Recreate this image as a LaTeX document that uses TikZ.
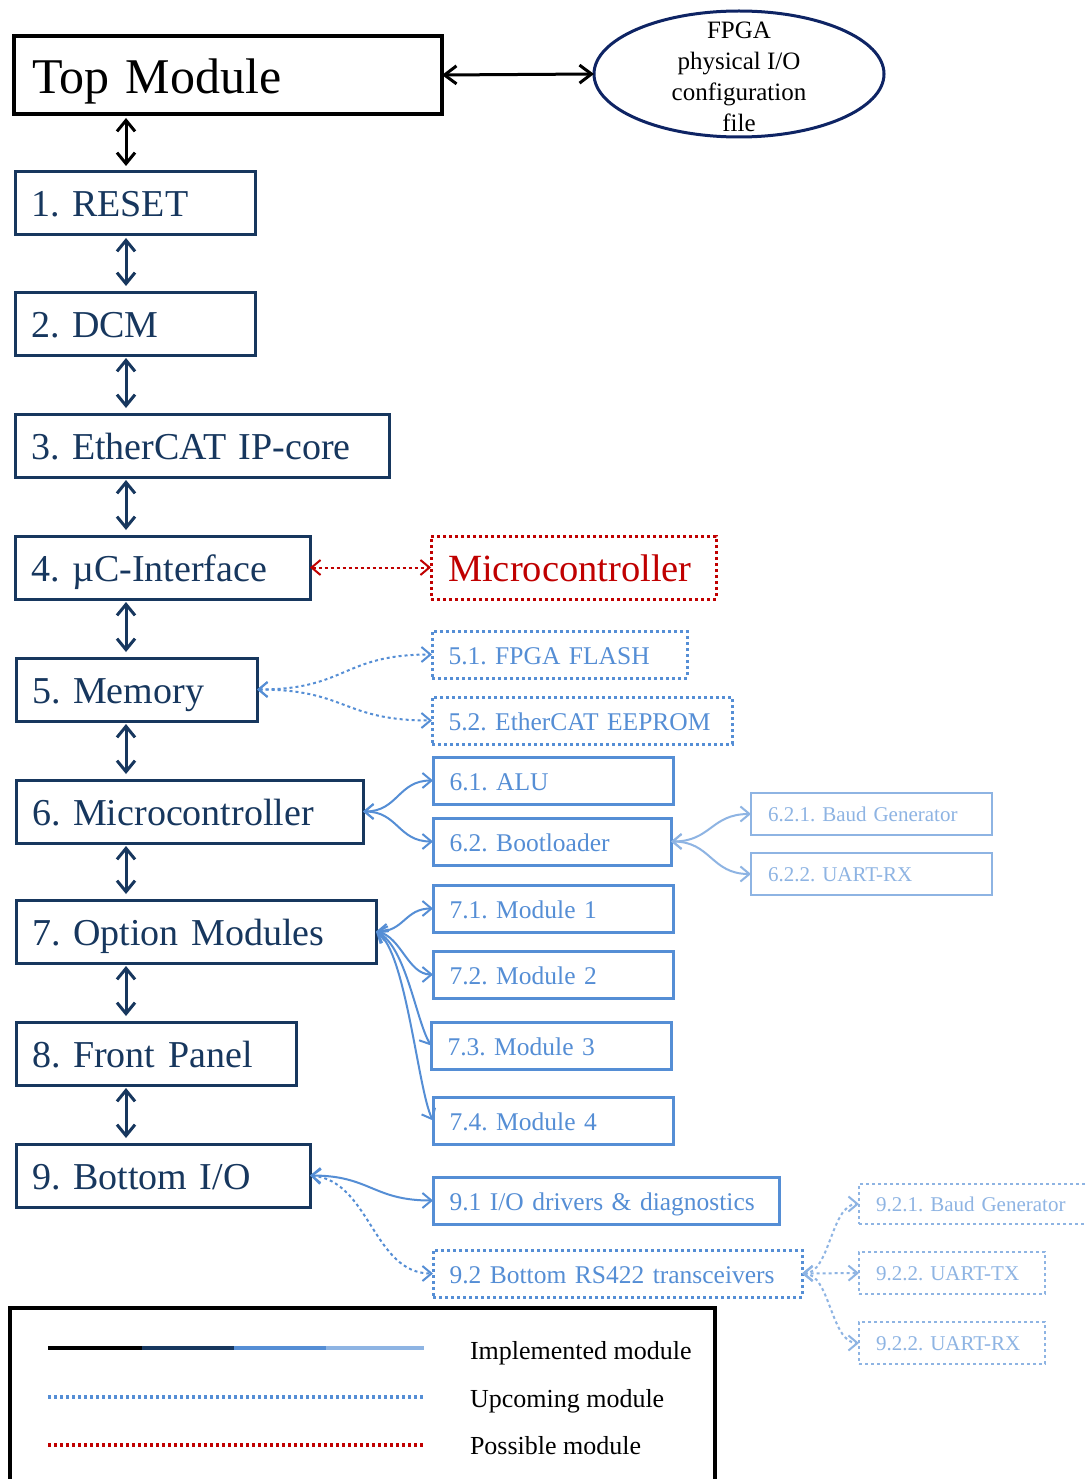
\documentclass[tikz,border=0pt]{standalone}
\usepackage{fontspec}
\setmainfont{Liberation Serif}
\usetikzlibrary{arrows.meta,shapes.geometric}
\definecolor{navy}{RGB}{23,55,94}
\definecolor{ellnavy}{RGB}{14,36,100}
\definecolor{midblue}{RGB}{85,142,213}
\definecolor{lightblue}{RGB}{142,180,227}
\definecolor{possred}{RGB}{192,0,0}
\begin{document}
\frenchspacing
\begin{tikzpicture}[x=1pt,y=-1pt,
  every node/.style={inner sep=0pt,outer sep=0pt},
  topbox/.style={draw=black,line width=4pt,anchor=north west,minimum height=78pt,inner xsep=18pt,align=left,text height=42pt,text depth=5.4pt,font=\fontsize{50}{56}\selectfont},
  lvlone/.style={draw=navy,line width=3pt,text=navy,anchor=north west,minimum height=63pt,inner xsep=16pt,align=left,text height=32pt,text depth=5pt,font=\fontsize{38}{44}\selectfont},
  lvltwo/.style={draw=midblue,line width=3pt,text=midblue,anchor=north west,minimum height=47pt,inner xsep=16.5pt,align=left,text height=24pt,text depth=3.6pt,font=\fontsize{25.5}{30}\selectfont},
  lvlthree/.style={draw=lightblue,line width=2.5pt,text=lightblue,anchor=north west,minimum height=42pt,inner xsep=17pt,align=left,text height=19pt,text depth=3.6pt,font=\fontsize{21}{25}\selectfont},
  dotline/.style={dash pattern=on 3pt off 3pt},
  possbox/.style={draw=possred,line width=3pt,text=possred,dotline,anchor=north west,minimum height=63pt,inner xsep=17pt,align=left,text height=32pt,text depth=5pt,font=\fontsize{38.5}{44}\selectfont},
  varr/.style={{Straight Barb[length=11pt,width=18pt]}-{Straight Barb[length=11pt,width=18pt]},line width=3pt,shorten <=3pt,shorten >=6pt},
  fan/.style={{Straight Barb[length=9pt,width=15pt]}-{Straight Barb[length=9pt,width=15pt]},line width=2pt},
  legtext/.style={anchor=base west,font=\fontsize{26}{30}\selectfont}
]
\clip (0,0) rectangle (1085,1479);
\fill[white] (0,0) rectangle (1085,1479);

% top level
\node[topbox,text width=392pt] (top) at (14,36) {Top Module};
\node[ellipse,draw=ellnavy,line width=3pt,minimum width=290pt,minimum height=126pt] (fpga) at (739,74) {};
\node[align=center,font=\fontsize{25}{31}\selectfont] (fpgatext) at (739,77) {FPGA\\physical I/O\\configuration\\file};
\draw[{Straight Barb[length=12pt,width=18pt]}-{Straight Barb[length=12pt,width=18pt]},line width=3pt] (top.east) -- (fpga.west);

% main column
\node[lvlone,text width=208pt] (reset) at (15,172) {1. RESET};
\node[lvlone,text width=208pt] (dcm) at (15,292) {2. DCM};
\node[lvlone,text width=342pt] (ecat) at (15,414) {3. EtherCAT IP-core};
\node[lvlone,text width=263pt] (uci) at (15,536) {4. µC-Interface};
\node[lvlone,text width=209pt] (mem) at (16,658) {5. Memory};
\node[lvlone,text width=315pt] (mc) at (16,780) {6. Microcontroller};
\node[lvlone,text width=328pt] (opt) at (16,900) {7. Option Modules};
\node[lvlone,text width=248pt] (fp) at (16,1022) {8. Front Panel};
\node[lvlone,text width=262pt] (bio) at (16,1144) {9. Bottom I/O};

\coordinate (axis) at (126,0);
\draw[varr,black,shorten <=4pt] (top.south -| axis) -- (reset.north -| axis);
\draw[varr,navy] (reset.south -| axis) -- (dcm.north -| axis);
\draw[varr,navy] (dcm.south -| axis) -- (ecat.north -| axis);
\draw[varr,navy] (ecat.south -| axis) -- (uci.north -| axis);
\draw[varr,navy] (uci.south -| axis) -- (mem.north -| axis);
\draw[varr,navy] (mem.south -| axis) -- (mc.north -| axis);
\draw[varr,navy] (mc.south -| axis) -- (opt.north -| axis);
\draw[varr,navy] (opt.south -| axis) -- (fp.north -| axis);
\draw[varr,navy] (fp.south -| axis) -- (bio.north -| axis);

% possible module
\node[possbox,text width=251pt] (micro) at (431,536) {Microcontroller};
\draw[fan,possred,dotline] (uci.east) -- (micro.west);

% second level
\node[lvltwo,dotline,text width=222pt] (f51) at (432,631) {5.1. FPGA FLASH};
\node[lvltwo,dotline,text width=267pt] (f52) at (432,697) {5.2. EtherCAT EEPROM};
\node[lvltwo,text width=207pt] (alu) at (433,757) {6.1. ALU};
\node[lvltwo,text width=205pt] (boot) at (433,818) {6.2. Bootloader};
\node[lvltwo,text width=207pt] (m71) at (433,885) {7.1. Module 1};
\node[lvltwo,text width=207pt] (m72) at (433,951) {7.2. Module 2};
\node[lvltwo,text width=207pt] (m73) at (431,1022) {7.3. Module 3};
\node[lvltwo,text width=207pt] (m74) at (433,1097) {7.4. Module 4};
\node[lvltwo,text width=313pt] (io91) at (433,1177) {9.1 I/O drivers \& diagnostics};
\node[lvltwo,dotline,text width=336pt] (rs92) at (433,1250) {9.2 Bottom RS422 transceivers};

% third level
\node[lvlthree,text width=207pt] (b621) at (751,793) {6.2.1. Baud Generator};
\node[lvlthree,text width=207pt] (u622) at (751,853) {6.2.2. UART-RX};
\node[lvlthree,dotline,text width=206pt,minimum height=40pt] (b921) at (859,1184) {9.2.1. Baud Generator};
\node[lvlthree,dotline,text width=152pt] (tx922) at (859,1252) {9.2.2. UART-TX};
\node[lvlthree,dotline,text width=152pt] (rx922) at (859,1322) {9.2.2. UART-RX};

% connectors level 1 -> 2
\draw[fan,midblue,dotline] (mem.east) .. controls +(90,0) and +(-90,0) .. (f51.west);
\draw[fan,midblue,dotline] (mem.east) .. controls +(90,0) and +(-90,0) .. (f52.west);
\draw[fan,midblue] (mc.east) .. controls +(35,0) and +(-35,0) .. (alu.west);
\draw[fan,midblue] (mc.east) .. controls +(35,0) and +(-35,0) .. (boot.west);
\draw[fan,midblue] (opt.east) .. controls +(28,0) and +(-28,0) .. (m71.west);
\draw[fan,midblue] (opt.east) .. controls +(25,5) and +(-25,0) .. (m72.west);
\draw[fan,midblue] (opt.east) .. controls +(30,15) and +(-15,-25) .. (m73.west);
\draw[fan,midblue] (opt.east) .. controls +(30,20) and +(-15,-30) .. (m74.west);
\draw[fan,midblue] (bio.east) .. controls +(60,0) and +(-60,0) .. (io91.west);
\draw[fan,midblue,dotline] (bio.east) .. controls +(60,5) and +(-60,0) .. (rs92.west);

% connectors level 2 -> 3
\draw[fan,lightblue] (boot.east) .. controls +(40,0) and +(-40,0) .. (b621.west);
\draw[fan,lightblue] (boot.east) .. controls +(40,0) and +(-40,0) .. (u622.west);
\draw[fan,lightblue,dotline] (rs92.east) .. controls +(28,0) and +(-28,0) .. (b921.west);
\draw[fan,lightblue,dotline] (rs92.east) -- (tx922.west);
\draw[fan,lightblue,dotline] (rs92.east) .. controls +(28,0) and +(-28,0) .. (rx922.west);

% legend
\node[draw=black,line width=4pt,anchor=north west,minimum width=705pt,minimum height=200pt] (legend) at (10,1308) {};
\draw[line width=4pt,black] (48,1348) -- (142,1348);
\draw[line width=4pt,navy] (142,1348) -- (234,1348);
\draw[line width=4pt,midblue] (234,1348) -- (326,1348);
\draw[line width=4pt,lightblue] (326,1348) -- (424,1348);
\draw[line width=4pt,midblue,dotline] (48,1397) -- (424,1397);
\draw[line width=4pt,possred,dotline] (48,1445) -- (424,1445);
\node[legtext] (leg1) at (470,1359) {Implemented module};
\node[legtext] (leg2) at (470,1407) {Upcoming module};
\node[legtext] (leg3) at (470,1454) {Possible module};
\end{tikzpicture}
\end{document}
